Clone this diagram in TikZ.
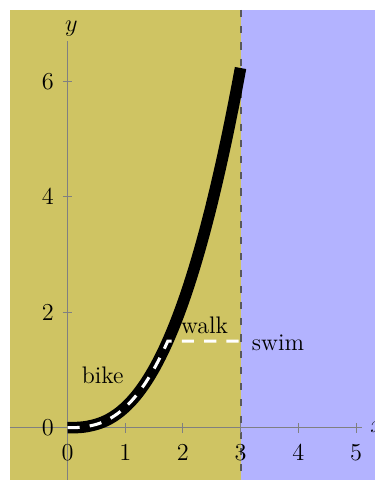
\documentclass[tikz,border=0pt]{standalone}
\definecolor{bgyellow}{RGB}{207,196,99}
\definecolor{bgblue}{RGB}{179,179,255}
\begin{document}
\begin{tikzpicture}[x=1cm,y=1cm,
  every node/.style={font=\fontsize{11.8}{14}\selectfont, inner sep=0pt},
  axisline/.style={draw=gray, line width=0.5pt},
  tickmark/.style={draw=gray, line width=0.5pt},
  road/.style={line width=0.2cm, black},
  lane/.style={white, line width=1.5pt, dash pattern=on 6pt off 5pt},
  border/.style={black!65, line width=1pt, dash pattern=on 3.5pt off 4.5pt},
  lbl/.style={anchor=base}]
\clip (-1.17,-0.906) rectangle (5.329,7.413);
\fill[bgyellow] (-1,-1) rectangle (3,7.24);
\fill[bgblue] (3,-1) rectangle (5.5,7.24);
\coordinate (btop) at (3,7.24);
\coordinate (bbot) at (3,-1);
\draw[border] (btop) -- (bbot);
% axes
\coordinate (xs) at (-1,0);
\coordinate (xe) at (5.1,0);
\coordinate (ys) at (0,-1);
\coordinate (ye) at (0,6.71);
\draw[axisline] (xs) -- (xe);
\draw[axisline] (ys) -- (ye);
\foreach \i in {1,...,5} \draw[tickmark] (\i,-0.085) -- (\i,0.085);
\foreach \i in {2,4,6} \draw[tickmark] (-0.085,\i) -- (0.085,\i);
\foreach \i in {0,...,5} \node (xl\i) at (\i,-0.425) {$\i$};
\foreach \i in {0,2,4,6} \node (yl\i) at (-0.34,\i) {$\i$};
\node[anchor=west] (xlab) at (5.24,0) {$x$};
\node[lbl] (ylab) at (0.066,6.86) {$y$};
% curve
\draw[road] (0,0) -- plot[domain=0.02:3, samples=100] (\x,{6.24*(\x/3)^2.61});
\draw[lane] (0,0) -- plot[domain=0.02:1.7376, samples=50] (\x,{6.24*(\x/3)^2.61}) -- (3,1.5);
% labels
\node[lbl] (bike) at (0.61,0.77) {bike};
\node[lbl] (walk) at (2.374,1.641) {walk};
\node[lbl] (swim) at (3.648,1.334) {swim};
\end{tikzpicture}
\end{document}
